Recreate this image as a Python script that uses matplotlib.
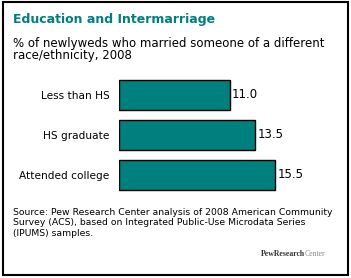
import matplotlib.pyplot as plt
from matplotlib.patches import Rectangle

categories = ['Less than HS', 'HS graduate', 'Attended college']
values = [11.0, 13.5, 15.5]
labels = ['11.0', '13.5', '15.5']

W, H = 351, 278
TEAL = '#007f7f'

fig = plt.figure(figsize=(W / 100, H / 100), dpi=100)

# frame round the whole chart
fig.patches.append(Rectangle((2.5 / W, 1 - 275 / H), 345 / W, 273 / H,
                             transform=fig.transFigure, fill=False,
                             edgecolor='black', linewidth=1.5))

fig.text(13 / W, 1 - 20 / H, 'Education and Intermarriage', color=TEAL,
         fontsize=9, fontweight='bold', va='center', ha='left')
fig.text(13 / W, 1 - 43 / H, '% of newlyweds who married someone of a different',
         fontsize=8.5, va='center', ha='left')
fig.text(13 / W, 1 - 55 / H, 'race/ethnicity, 2008',
         fontsize=8.5, va='center', ha='left')

# axes: x from 119.3 px, 10.07 px per unit
ax = fig.add_axes([119.3 / W, 1 - 195 / H, 201.4 / W, 130 / H])
ax.set_xlim(0, 20)
ax.set_ylim(2.5, -0.75)
y = range(len(categories))
ax.barh(y, values, height=0.73, color=TEAL, edgecolor='black', linewidth=1)
for i, (v, lab) in enumerate(zip(values, labels)):
    ax.text(v + 0.2, i, lab, va='center', ha='left', fontsize=8.5)
ax.set_yticks(list(y))
ax.set_yticklabels(categories, fontsize=7.6)
ax.tick_params(axis='y', length=0, pad=7)
ax.set_xticks([])
for s in ax.spines.values():
    s.set_visible(False)

src = ('Source: Pew Research Center analysis of 2008 American Community\n'
       'Survey (ACS), based on Integrated Public-Use Microdata Series\n'
       '(IPUMS) samples.')
fig.text(13 / W, 1 - 208 / H, src, fontsize=6.7, va='top', ha='left',
         linespacing=1.2)

fig.text(305 / W, 1 - 254 / H, 'PewResearch', family='Liberation Serif',
         fontsize=5.6, fontweight='bold', color='#333333',
         va='center', ha='right')
fig.text(305 / W, 1 - 254 / H, 'Center', family='Liberation Serif',
         fontsize=5.6, color='#888888', va='center', ha='left')

fig.savefig('out.png', dpi=100)
